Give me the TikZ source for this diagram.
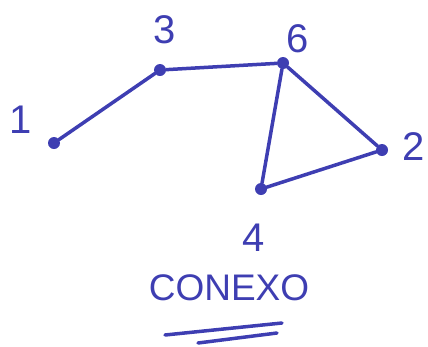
\documentclass[tikz,border=0pt]{standalone}
\usepackage{fontspec}
\setmainfont{Liberation Sans}
\definecolor{pen}{RGB}{62,62,178}
\begin{document}
\begin{tikzpicture}[x=1pt,y=-1pt,
  vtx/.style={circle,fill=pen,inner sep=0pt,minimum size=12pt},
  lbl/.style={text=pen,font=\fontsize{40}{40}\selectfont,inner sep=0pt},
  edge/.style={draw=pen,line width=3.5pt,line cap=round}]
\useasboundingbox (0,0) rectangle (428,346);
\node[vtx] (v1) at (54,143) {};
\node[vtx] (v3) at (160,70) {};
\node[vtx] (v6) at (283,63) {};
\node[vtx] (v2) at (382,150) {};
\node[vtx] (v4) at (261,189) {};
\node[lbl] (l1) at (21,120) {1};
\node[lbl] (l3) at (165,30) {3};
\node[lbl] (l6) at (298,39) {6};
\node[lbl] (l2) at (414,147) {2};
\node[lbl] (l4) at (254,238) {4};
\draw[edge] (v1) -- (v3) -- (v6) -- (v2) -- (v4) -- (v6);
\node[text=pen,font=\fontsize{37}{37}\selectfont,inner sep=0pt] (title) at (229,288) {CONEXO};
\coordinate (u1a) at (165,335);
\coordinate (u1b) at (282,323);
\coordinate (u2a) at (198,343);
\coordinate (u2b) at (277,333);
\draw[edge] (u1a) -- (u1b);
\draw[edge] (u2a) -- (u2b);
\end{tikzpicture}
\end{document}
